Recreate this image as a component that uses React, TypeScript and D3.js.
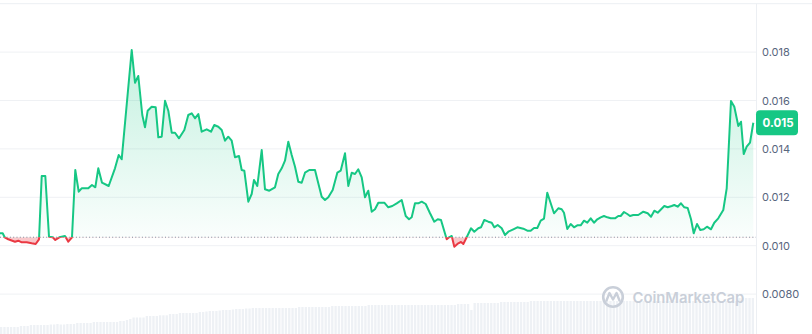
import React from "react";
import * as d3 from "d3";

const W = 812;
const H = 334;

// time in hours over a 7-day window
const hours = [
  0, 0.6, 1.04, 1.84, 3.33, 4.07, 4.82, 5.93, 7.04, 7.93, 8.67, 9.27, 10.07, 10.89, 11.71, 12.29, 13.18, 14.44, 15.18, 16.0,
  16.73, 17.49, 18.15, 19.62, 20.44, 21.18, 21.84, 22.67, 24.15, 25.55, 26.38, 27.04, 29.27, 30.0, 30.73, 31.62, 32.22, 32.82, 33.71, 34.6,
  35.18, 35.93, 36.67, 37.4, 38.16, 38.89, 39.78, 40.96, 41.84, 42.6, 43.33, 44.07, 44.82, 45.93, 46.89, 47.62, 48.51, 49.27, 50.0, 50.73,
  51.49, 52.22, 53.11, 53.71, 54.29, 55.18, 55.93, 56.44, 57.18, 58.16, 58.89, 59.84, 61.11, 61.84, 62.6, 63.33, 64.07, 64.82, 65.56, 66.29,
  67.04, 67.78, 68.73, 70.0, 70.73, 71.49, 72.22, 72.96, 73.93, 74.96, 75.71, 76.67, 77.4, 78.16, 78.89, 79.62, 80.38, 81.11, 81.84, 82.6,
  83.33, 84.07, 85.4, 86.29, 87.18, 88.16, 89.27, 90.16, 90.89, 91.49, 92.22, 92.96, 93.71, 94.6, 95.56, 96.51, 97.27, 98.0, 99.27, 99.78,
  100.38, 100.96, 101.84, 102.44, 102.96, 103.71, 104.67, 105.4, 106.29, 106.89, 107.62, 108.51, 109.27, 109.84, 110.6, 111.49, 112.22, 112.96, 114.07, 114.96,
  116.29, 117.18, 117.93, 118.67, 119.4, 120.16, 120.89, 121.62, 122.38, 123.11, 124.07, 124.82, 125.33, 126.07, 126.82, 127.56, 128.29, 129.04, 129.78, 130.51,
  131.27, 132.0, 132.73, 133.49, 134.22, 134.96, 135.71, 136.67, 137.4, 137.93, 138.67, 139.4, 140.0, 140.73, 141.84, 142.96, 143.93, 144.67, 145.4, 146.16,
  147.62, 148.38, 149.27, 149.84, 150.6, 151.33, 152.07, 152.82, 153.56, 154.16, 154.89, 155.62, 156.38, 157.11, 158.0, 158.73, 159.62, 160.73, 161.49, 161.84,
  162.44, 163.18, 164.07, 164.67, 165.27, 165.93, 166.67, 167.4,
];

const prices = [
  0.010512, 0.010512, 0.010347, 0.010264, 0.010165, 0.010207, 0.01014, 0.01014, 0.010099, 0.01007, 0.010264, 0.01288, 0.01288, 0.010372, 0.010347, 0.010236, 0.010347, 0.010401, 0.010165, 0.010347,
  0.013128, 0.012231, 0.012372, 0.012372, 0.012508, 0.012413, 0.013198, 0.012603, 0.012467, 0.013198, 0.013748, 0.01357, 0.018086, 0.016735, 0.017012, 0.015401, 0.014892, 0.015578, 0.015743, 0.015719,
  0.014479, 0.014504, 0.015991, 0.015578, 0.014669, 0.014669, 0.014438, 0.014781, 0.015401, 0.015471, 0.015264, 0.015442, 0.01471, 0.01481, 0.01471, 0.014987, 0.014917, 0.014781, 0.014339, 0.014504,
  0.014339, 0.013653, 0.013706, 0.013128, 0.013099, 0.011818, 0.012136, 0.012715, 0.012467, 0.013954, 0.01233, 0.012273, 0.012413, 0.012963, 0.013198, 0.013512, 0.014297, 0.013748, 0.013264, 0.012644,
  0.012603, 0.013016, 0.013128, 0.013128, 0.012578, 0.012025, 0.011888, 0.012, 0.012302, 0.013016, 0.013099, 0.013818, 0.012467, 0.013016, 0.012963, 0.013157, 0.012826, 0.012, 0.012273, 0.011405,
  0.011504, 0.011777, 0.011777, 0.011587, 0.01164, 0.011752, 0.011888, 0.011227, 0.011091, 0.011173, 0.011752, 0.011752, 0.011818, 0.011723, 0.011339, 0.010992, 0.011091, 0.011062, 0.010264, 0.010347,
  0.010401, 0.009959, 0.010099, 0.010153, 0.01007, 0.010347, 0.010719, 0.010578, 0.010719, 0.01076, 0.011062, 0.010992, 0.01095, 0.01076, 0.010855, 0.010719, 0.010442, 0.010578, 0.010678, 0.01076,
  0.010702, 0.01062, 0.01062, 0.010731, 0.010731, 0.011033, 0.011116, 0.01219, 0.011752, 0.011339, 0.011545, 0.011504, 0.011364, 0.01069, 0.010897, 0.01076, 0.010843, 0.010843, 0.011033, 0.01095,
  0.011132, 0.01095, 0.011091, 0.011173, 0.011227, 0.011173, 0.011132, 0.011132, 0.011227, 0.011227, 0.011392, 0.01131, 0.011227, 0.011269, 0.011269, 0.011405, 0.011339, 0.011198, 0.011446, 0.011364,
  0.01164, 0.011587, 0.01164, 0.011682, 0.011611, 0.011752, 0.011587, 0.011558, 0.011091, 0.010512, 0.010897, 0.010649, 0.010678, 0.010785, 0.010678, 0.01095, 0.011132, 0.011475, 0.012372, 0.013677,
  0.015979, 0.015743, 0.014946, 0.015124, 0.013789, 0.014091, 0.014256, 0.015082,
];

// volume (relative units), one bar per interval
const volumes = [
  7, 7, 7, 7, 7, 7, 8, 8, 8, 9, 9, 9, 9, 9, 9, 9.5, 9.5, 10, 9.5, 9.5, 10, 10, 10,
  11, 11, 11, 11, 11, 12, 12, 12, 12, 12, 12, 12, 12, 13, 13, 14, 15, 16.5, 16.5, 16.5, 16.5,
  18, 18, 18, 18, 18.7, 18.7, 18.7, 20, 20, 20, 21, 21, 21, 21, 21, 21,
  22, 22, 22.5, 23, 23, 23, 23.5, 24, 24, 24, 24.5, 25, 25, 25, 25.5, 25.5, 26, 26,
  26, 26, 26, 26, 26, 26, 26, 26, 26, 26, 26, 26,
  27, 27, 27, 27, 27, 27, 27, 27, 27, 27,
  28, 28, 28, 28, 28, 28, 28, 28, 28, 28, 28,
  29, 29, 29, 29, 29, 29, 29, 29, 29, 29, 29, 29, 29, 29, 29, 29, 29, 29, 29, 29, 29, 29, 29, 29, 29, 29, 29,
  30, 30, 30, 30, 24,
  31, 31, 31, 31, 31, 31, 31, 31,
  32, 32, 32, 32, 32, 32, 32, 32, 32,
  33, 33, 33, 33, 33, 33, 33, 33, 33, 33, 33, 33, 33, 33, 33, 33, 33, 33, 33, 33, 33,
  33, 33, 33, 33, 33, 33, 33, 33, 33, 33, 33, 33, 33, 33, 33, 33, 33, 33, 33, 33, 33,
  33, 33, 33, 33, 33, 33, 33, 33, 33, 33, 33, 33, 33, 33, 33, 33, 33, 33, 33, 33, 33,
  36, 36, 36, 36, 36,
];

const yTicks = [0.008, 0.01, 0.012, 0.014, 0.016, 0.018];
const yTickLabels = ["0.0080", "0.010", "0.012", "0.014", "0.016", "0.018"];
const baselinePrice = 0.01035;
const lastPriceLabel = "0.015";
const watermark = "CoinMarketCap";

const GREEN = "#16c784";
const RED = "#ea3943";
const FONT = "Inter, 'Noto Sans', sans-serif";

export default function App() {
  const plotRight = 756;
  const x = d3.scaleLinear().domain([0, 168]).range([0, plotRight]);
  const y = d3.scaleLinear().domain([0.008, 0.02]).range([294.1, 3.7]);
  const baseY = y(baselinePrice);
  const data = hours.map((h, i) => ({ h, p: prices[i] }));

  const line = d3
    .line<{ h: number; p: number }>()
    .x((d) => x(d.h))
    .y((d) => y(d.p));
  const area = d3
    .area<{ h: number; p: number }>()
    .x((d) => x(d.h))
    .y0(baseY)
    .y1((d) => y(d.p));

  const vx = d3
    .scaleBand<number>()
    .domain(volumes.map((_, i) => i))
    .range([0, 754])
    .paddingInner(0.3)
    .paddingOuter(0);
  const vy = d3.scaleLinear().domain([0, 40]).range([H, H - 40]);

  const maxY = y(d3.max(prices) as number);
  const last = prices[prices.length - 1];
  const lastY = y(last);

  return (
    <svg
      width={W}
      height={H}
      style={{ position: "absolute", left: 0, top: 0, background: "#fff" }}
      fontFamily={FONT}
    >
      <defs>
        <linearGradient id="gfill" gradientUnits="userSpaceOnUse" x1={0} y1={maxY} x2={0} y2={baseY}>
          <stop offset="0" stopColor={GREEN} stopOpacity={0.26} />
          <stop offset="1" stopColor={GREEN} stopOpacity={0.02} />
        </linearGradient>
        <clipPath id="above">
          <rect x={-5} y={0} width={plotRight + 5} height={baseY} />
        </clipPath>
        <clipPath id="below">
          <rect x={-5} y={baseY} width={plotRight + 5} height={H - baseY} />
        </clipPath>
      </defs>

      {/* volume bars */}
      <g>
        {volumes.map((v, i) => (
          <rect
            key={i}
            x={vx(i)}
            y={vy(v)}
            width={vx.bandwidth()}
            height={H - vy(v)}
            fill="#eef1f5"
          />
        ))}
      </g>

      {/* top border */}
      <line x1={0} x2={W} y1={y(0.02)} y2={y(0.02)} stroke="#eceff3" strokeWidth={1} />
      {/* grid */}
      {yTicks.map((t) => (
        <line key={t} x1={0} x2={plotRight} y1={y(t)} y2={y(t)} stroke="#eff1f4" strokeWidth={1} />
      ))}
      {/* right border */}
      <line x1={plotRight + 0.5} x2={plotRight + 0.5} y1={y(0.02)} y2={H} stroke="#eceff3" strokeWidth={1} />

      {/* areas */}
      <path d={area(data) as string} fill="url(#gfill)" clipPath="url(#above)" />
      <path d={area(data) as string} fill={RED} fillOpacity={0.28} clipPath="url(#below)" />

      {/* baseline */}
      <line
        x1={0}
        x2={plotRight}
        y1={baseY}
        y2={baseY}
        stroke="#7f8a9c"
        strokeWidth={1}
        strokeDasharray="1 2.3"
      />

      {/* lines */}
      <path d={line(data) as string} fill="none" stroke={GREEN} strokeWidth={2} strokeLinejoin="round" clipPath="url(#above)" />
      <path d={line(data) as string} fill="none" stroke={RED} strokeWidth={2} strokeLinejoin="round" clipPath="url(#below)" />

      {/* y labels */}
      {yTicks.map((t, i) => (
        <text key={t} x={762} y={y(t)} dominantBaseline="central" fontSize={11} fill="#58667e">
          {yTickLabels[i]}
        </text>
      ))}

      {/* last price tag */}
      <rect x={plotRight} y={lastY - 12.5} width={42} height={25} rx={4} fill={GREEN} />
      <text x={762.5} y={lastY} dominantBaseline="central" fontSize={11.5} fontWeight={700} fill="#fff">
        {lastPriceLabel}
      </text>

      {/* watermark */}
      <g opacity={1}>
        <circle cx={613} cy={297} r={9.8} fill="none" stroke="#c9cfd9" strokeWidth={2.6} />
        <path
          d="M606.5,300.5 L609.5,293 L613,299.5 L616.5,293 L619.5,300.5"
          fill="none"
          stroke="#c9cfd9"
          strokeWidth={2.4}
          strokeLinejoin="round"
          strokeLinecap="round"
        />
        <text x={632.5} y={302.8} fontSize={14.8} fontWeight={600} fill="#c9cfd9">
          {watermark}
        </text>
      </g>
    </svg>
  );
}
